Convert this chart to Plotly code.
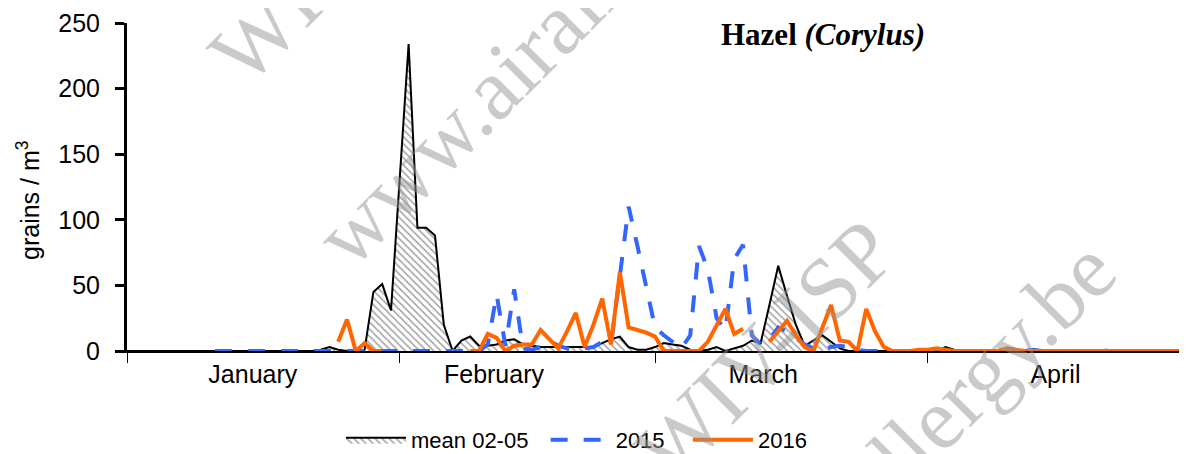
import plotly.graph_objects as go

# day index 0 = 1 January, 120 = 30 April (2016, leap year)
days = list(range(121))

mean_0205 = [0, 0, 0, 0, 0, 0, 0, 0, 0, 0,
             0, 0, 0, 0, 0, 0, 0, 0, 0, 0,
             0, 0, 1, 3, 1, 0, 0, 1, 45, 51,
             31, 132, 234, 94, 94, 88, 20, 0, 8, 11,
             4, 4, 5, 8, 9, 5, 4, 3, 3, 3,
             3, 3, 3, 3, 6, 9, 11, 3, 1, 1,
             3, 6, 5, 4, 1, 0, 1, 3, 0, 2,
             4, 8, 6, 35, 65, 42, 20, 4, 8, 12,
             7, 2, 0, 0, 0, 0, 0, 0, 0, 0,
             0, 0, 0, 3, 1, 0, 0, 0, 0, 0,
             2, 0, 0, 0, 0, 0, 0, 0, 0, 0,
             0, 0, 0, 0, 0, 0, 0, 0, 0, 0,
             0]

y2015 = [None, None, None, None, None, None, None, None, None, None,
         0, 0, 0, 0, 0, 0, 0, 0, 0, 0,
         0, 0, 0, 0, 0, 0, 0, 0, 0, 0,
         0, 0, 0, 0, 0, 0, 0, 0, 0, 0,
         0, 5, 43, 4, 47, 2, 1, 3, 8, 4,
         2, 1, 2, 3, 7, 5, 57, 110, 80, 48,
         18, 12, 7, 2, 12, 80, 62, 25, 16, 70,
         81, 12, 5, 9, 18, 15, 10, 5, 2, 1,
         3, 4, 3, 1, 0, 0, 0, 0, 0, 0,
         0, 0, 1, 0, 0, 0, 0, 0, 0, 0,
         1, 0, 0, 1, 0, 0, 0, 0, 0, 0,
         0, 0, 1, 0, 0, 0, 0, 0, 0, 0,
         0]

y2016 = [None, None, None, None, None, None, None, None, None, None,
         None, None, None, None, None, None, None, None, None, None,
         None, None, None, None, 7, 24, 0, 6, 0, 0,
         None, None, None, None, None, None, None, None, None, 0,
         0, 13, 10, 0, 4, 5, 5, 16, 9, 2,
         15, 29, 3, 20, 40, 5, 60, 18, 16, 14,
         11, 0, 0, 0, 0, 0, 7, 20, 32, 13,
         17, None, None, 7, 15, 23, 12, 3, 0, 17,
         35, 8, 7, 0, 32, 15, 3, 0, 0, 0,
         1, 1, 2, 1, 0, 0, 0, 0, 0, 0,
         2, 1, 0, 0, 0, 0, 0, 0, 0, 0,
         0, 0, 0, 0, 0, 0, 0, 0, 0, 0,
         0]

month_names = ["January", "February", "March", "April"]
month_label_pos = [14.3, 41.7, 72.3, 105.5]
month_starts = [0, 31, 60, 91]

# the page body has an 8px margin, so the figure is drawn 8px in from the corner
PAD = 8
W, H = 1187 - PAD, 454 - PAD
PLOT_X0, PLOT_X1, PLOT_Y0, PLOT_Y1 = 127, 1187, 23, 351   # plot area in window pixels


def px_to_paper(px, py):
    return (px - PLOT_X0) / (PLOT_X1 - PLOT_X0), (PLOT_Y1 - py) / (PLOT_Y1 - PLOT_Y0)


fig = go.Figure()

fig.add_trace(go.Scatter(x=days, y=mean_0205, name="mean 02-05\u00a0\u00a0", mode="lines",
                         line=dict(color="black", width=2),
                         fill="tozeroy", fillcolor="white",
                         fillpattern=dict(shape="\\", fgcolor="#444444", bgcolor="white",
                                          size=5, solidity=0.3)))
fig.add_trace(go.Scatter(x=days, y=y2015, name="2015\u00a0\u00a0\u00a0", mode="lines",
                         line=dict(color="#3366FF", width=4, dash="17px,16px")))
fig.add_trace(go.Scatter(x=days, y=y2016, name="2016", mode="lines",
                         line=dict(color="#FF6600", width=4)))

# watermark (site stamp over the chart)
wm_font = dict(family="Liberation Serif", size=88, color="rgba(150,150,150,0.5)")
for text, (px, py) in [("www.airallergy.be", (557, 23)),
                       ("WIV-ISP", (765, 350)),
                       ("www.airallergy.be", (873, 482)),
                       ("WIV-ISP", (340, -46))]:
    xp, yp = px_to_paper(px, py)
    fig.add_annotation(x=xp, y=yp, xref="paper", yref="paper", text=text,
                       xanchor="center", yanchor="middle",
                       showarrow=False, textangle=-45, font=wm_font)

tx, ty = px_to_paper(823, 34)
fig.add_annotation(x=tx, y=ty, xref="paper", yref="paper", xanchor="center", yanchor="middle",
                   text="<b>Hazel <i>(Corylus)</i></b>", showarrow=False,
                   font=dict(family="Liberation Serif", size=31, color="black"))

# y axis title, sitting a little below the middle of the axis like the original
ax_, ay_ = px_to_paper(28, 200)
fig.add_annotation(x=ax_, y=ay_, xref="paper", yref="paper", xanchor="center", yanchor="middle",
                   text="grains / m<sup>3</sup>", showarrow=False, textangle=-90,
                   font=dict(family="Liberation Sans", size=25, color="black"))

fig.update_xaxes(range=[0, 120.45], showgrid=False, zeroline=False, automargin=False,
                 showline=True, linecolor="black", linewidth=2,
                 tickmode="array", tickvals=month_label_pos, ticktext=month_names,
                 ticks="", tickfont=dict(family="Liberation Sans", size=25, color="black"),
                 minor=dict(tickmode="array", tickvals=month_starts, ticks="outside",
                            ticklen=10, tickwidth=1, tickcolor="black"))
fig.update_yaxes(range=[0, 250], showgrid=False, zeroline=False, automargin=False,
                 showline=True, linecolor="black", linewidth=3,
                 tickmode="array", tickvals=[0, 50, 100, 150, 200, 250],
                 ticks="outside", ticklen=9, tickwidth=3, tickcolor="black",
                 ticklabelstandoff=10,
                 tickfont=dict(family="Liberation Sans", size=25, color="black"))

fig.update_layout(width=W, height=H,
                  margin=dict(l=PLOT_X0 - PAD, r=W - (PLOT_X1 - PAD), t=PLOT_Y0 - PAD,
                              b=H - (PLOT_Y1 - PAD), autoexpand=False),
                  plot_bgcolor="white", paper_bgcolor="white",
                  showlegend=True,
                  legend=dict(orientation="h", xref="container", yref="container",
                              x=(341 - PAD) / W, y=1 - (440 - PAD) / H,
                              xanchor="left", yanchor="middle",
                              font=dict(family="Liberation Sans", size=22, color="black"),
                              itemwidth=60, bgcolor="rgba(0,0,0,0)"))

fig.write_html("out.html")
